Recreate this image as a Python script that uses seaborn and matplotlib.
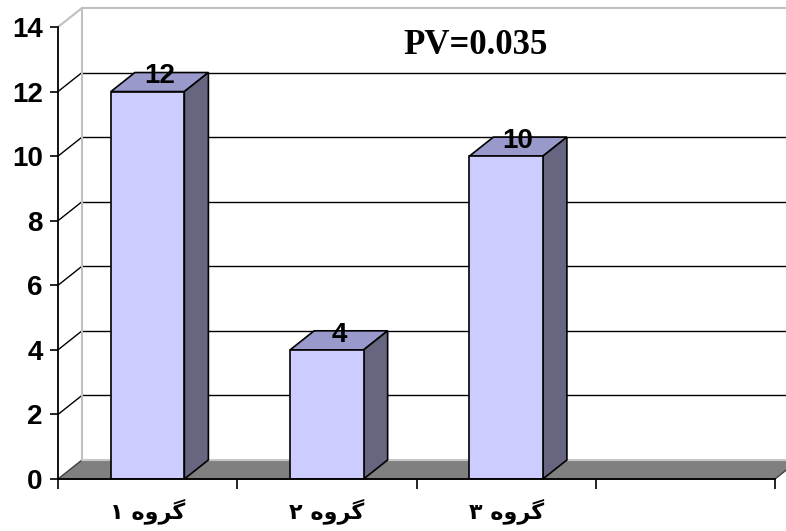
import matplotlib
matplotlib.use('Agg')
import matplotlib.pyplot as plt
import seaborn as sns
from matplotlib.patches import Polygon

# Data
groups = ['گروه ۱', 'گروه ۲', 'گروه ۳']
counts = [12, 4, 10]
y_ticks = [0, 2, 4, 6, 8, 10, 12, 14]
pv_text = 'PV=0.035'
n_slots = 4  # category axis leaves room for a fourth (empty) group

# matplotlib does no Arabic shaping, so map letters to presentation forms
# (isolated, final, initial, medial); None = letter does not join forward
FORMS = {
    'گ': ('\uFB92', '\uFB93', '\uFB94', '\uFB95'),
    'ر': ('\uFEAD', '\uFEAE', None, None),
    'و': ('\uFEED', '\uFEEE', None, None),
    'ه': ('\uFEE9', '\uFEEA', '\uFEEB', '\uFEEC'),
}


def shape_rtl(text):
    out = []
    for i, ch in enumerate(text):
        if ch not in FORMS:
            out.append(ch)
            continue
        prev = text[i - 1] if i > 0 else ''
        nxt = text[i + 1] if i + 1 < len(text) else ''
        joins_prev = prev in FORMS and FORMS[prev][2] is not None
        joins_next = nxt in FORMS and FORMS[ch][2] is not None
        iso, fin, ini, med = FORMS[ch]
        if joins_prev and joins_next:
            out.append(med)
        elif joins_prev:
            out.append(fin)
        elif joins_next:
            out.append(ini)
        else:
            out.append(iso)
    return ''.join(reversed(out))


W, H, DPI = 786, 531, 100
sns.set_style('white')
plt.rcParams['font.family'] = ['Liberation Sans', 'DejaVu Sans']
plt.rcParams['text.color'] = 'black'
plt.rcParams['xtick.color'] = 'black'
plt.rcParams['ytick.color'] = 'black'

fig = plt.figure(figsize=(W / DPI, H / DPI), dpi=DPI)
ax = fig.add_axes([58 / W, (H - 479) / H, (775 - 58) / W, (479 - 27) / H])

x0, x1 = -0.5, n_slots - 0.5
ax.set_xlim(x0, x1)
ax.set_ylim(0, 14)
# depth of the fake 3D box, in data units
dx, dy = 0.134, 0.59

# front faces first, so ax.patches holds only the bars
sns.barplot(x=groups, y=counts, color='#CCCCFF', saturation=1, width=0.41,
            edgecolor='black', linewidth=1.2, ax=ax)
ax.set_xlim(x0, x1)
bars = list(ax.patches)

# back wall and left wall gridlines
for t in y_ticks[1:-1]:
    ax.plot([x0 + dx, x1 + dx], [t + dy, t + dy], color='black', lw=1, clip_on=False, zorder=1)
    ax.plot([x0, x0 + dx], [t, t + dy], color='black', lw=1, clip_on=False, zorder=1)
top = y_ticks[-1]
ax.plot([x0, x0 + dx, x1 + dx + 1], [top, top + dy, top + dy], color='#C0C0C0', lw=1.5,
        clip_on=False, zorder=1)
ax.plot([x0 + dx, x0 + dx], [dy, top + dy], color='#C0C0C0', lw=1.5, clip_on=False, zorder=1)

# floor
floor = Polygon([(x0, 0), (x1, 0), (x1 + dx, dy), (x0 + dx, dy)], closed=True,
                facecolor='#808080', edgecolor='#404040', lw=1, clip_on=False, zorder=2)
ax.add_patch(floor)
ax.plot([x0 + dx, x1 + dx], [dy, dy], color='#C8C8C8', lw=1.5, clip_on=False, zorder=2)

for p, v in zip(bars, counts):
    p.set_zorder(5)
    bx, bw, bh = p.get_x(), p.get_width(), p.get_height()
    top_face = Polygon([(bx, bh), (bx + bw, bh), (bx + bw + dx, bh + dy), (bx + dx, bh + dy)],
                       closed=True, facecolor='#9999CC', edgecolor='black', lw=1.2,
                       clip_on=False, zorder=4)
    side_face = Polygon([(bx + bw, 0), (bx + bw + dx, dy), (bx + bw + dx, bh + dy), (bx + bw, bh)],
                        closed=True, facecolor='#666680', edgecolor='black', lw=1.2,
                        clip_on=False, zorder=4)
    ax.add_patch(top_face)
    ax.add_patch(side_face)
    ax.text(bx + bw / 2 + dx / 2, bh + dy - 0.12, str(v), ha='center', va='center',
            fontsize=20, fontweight='bold', color='black', zorder=6)

ax.text(0.582, 0.958, pv_text, transform=ax.transAxes, ha='center', va='center',
        fontsize=25, fontweight='bold', family=['Liberation Serif'], color='black', zorder=6)

# axes
for side in ['top', 'right']:
    ax.spines[side].set_visible(False)
for side in ['left', 'bottom']:
    ax.spines[side].set_color('black')
    ax.spines[side].set_linewidth(1.3)
    ax.spines[side].set_zorder(6)

ax.set_yticks(y_ticks)
ax.set_yticklabels([str(t) for t in y_ticks], fontsize=20, fontweight='bold', color='black')
ax.tick_params(axis='y', direction='out', length=6, width=1.2, pad=5, color='black', left=True)

bounds = [x0 + i for i in range(n_slots + 1)]
ax.set_xticks(bounds, labels=[''] * len(bounds))
ax.tick_params(axis='x', which='major', direction='out', length=7, width=1.2, color='black', bottom=True)
ax.set_xticks(range(len(groups)), labels=[shape_rtl(g) for g in groups], minor=True)
ax.tick_params(axis='x', which='minor', length=0, pad=14)
for lab in ax.get_xticklabels(minor=True):
    lab.set_fontfamily(['DejaVu Sans'])
    lab.set_fontweight('bold')
    lab.set_fontsize(16)
    lab.set_color('black')

ax.set_xlabel('')
ax.set_ylabel('')
ax.patch.set_alpha(0)

fig.savefig('out.png', dpi=DPI)
